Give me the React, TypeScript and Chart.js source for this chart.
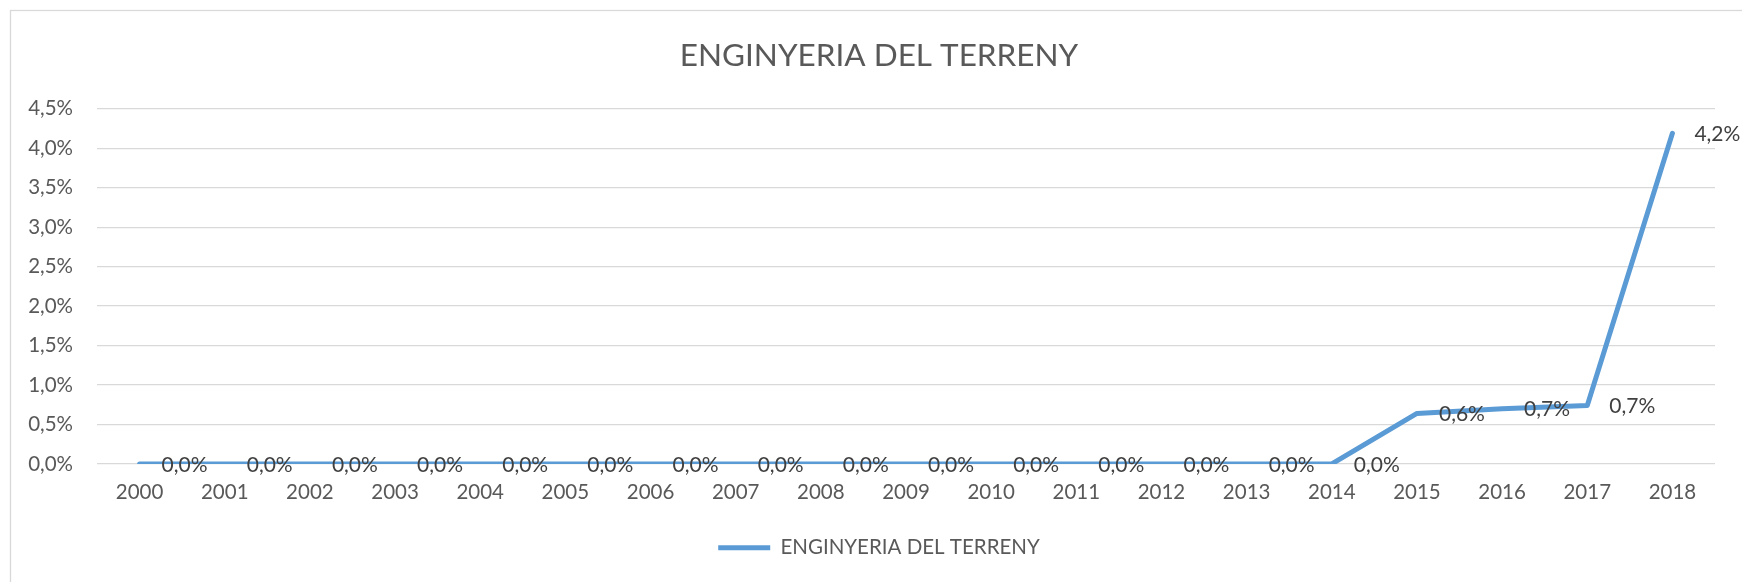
import React, { useEffect, useRef } from "react";
import { Chart, registerables } from "chart.js";

Chart.register(...registerables);

const categories = ["2000","2001","2002","2003","2004","2005","2006","2007","2008","2009","2010","2011","2012","2013","2014","2015","2016","2017","2018"];
const seriesName = "ENGINYERIA DEL TERRENY";
const seriesValues = [0,0,0,0,0,0,0,0,0,0,0,0,0,0,0,0.64,0.70,0.74,4.19];
const chartTitle = "ENGINYERIA DEL TERRENY";
const yMin = 0;
const yMax = 4.5;
const yStep = 0.5;

const FONT = "Lato, 'Open Sans', sans-serif";

const fmt = (v: number) => v.toFixed(1).replace(".", ",") + "%";

const borderPlugin = {
  id: "outerBorder",
  beforeDraw(chart: any) {
    const ctx = chart.ctx;
    ctx.save();
    ctx.fillStyle = "#ffffff";
    ctx.fillRect(0, 0, chart.width, chart.height);
    ctx.strokeStyle = "#D9D9D9";
    ctx.lineWidth = 1.3;
    ctx.strokeRect(10.5, 10.5, chart.width + 20, chart.height + 20);
    ctx.restore();
  },
};

const dataLabelPlugin = {
  id: "dataLabels",
  afterDatasetsDraw(chart: any) {
    const ctx = chart.ctx;
    const meta = chart.getDatasetMeta(0);
    const ds = chart.data.datasets[0];
    ctx.save();
    ctx.font = `21px ${FONT}`;
    ctx.fillStyle = "#404040";
    ctx.textAlign = "left";
    ctx.textBaseline = "middle";
    meta.data.forEach((pt: any, i: number) => {
      ctx.fillText(fmt(ds.data[i] as number), pt.x + 22, pt.y + 1);
    });
    ctx.restore();
  },
};

export default function App() {
  const ref = useRef<HTMLCanvasElement | null>(null);
  useEffect(() => {
    if (!ref.current) return;
    const chart = new Chart(ref.current, {
      type: "line",
      data: {
        labels: categories,
        datasets: [
          {
            label: seriesName,
            data: seriesValues,
            borderColor: "#5B9BD5",
            backgroundColor: "#5B9BD5",
            borderWidth: 5,
            pointRadius: 0,
            pointHoverRadius: 0,
            tension: 0,
            borderCapStyle: "round",
            borderJoinStyle: "round",
            fill: false,
          },
        ],
      },
      options: {
        animation: false,
        responsive: true,
        maintainAspectRatio: false,
        layout: { padding: { left: 20, right: 4, top: 0, bottom: 14 } },
        plugins: {
          title: {
            display: true,
            text: chartTitle,
            color: "#595959",
            font: { family: FONT, size: 31.5, weight: "normal" },
            padding: { top: 37, bottom: 34 },
          },
          legend: {
            display: true,
            position: "bottom",
            labels: {
              color: "#595959",
              font: { family: FONT, size: 20.5 },
              usePointStyle: true,
              pointStyle: "line",
              pointStyleWidth: 52,
              padding: 17,
            },
          },
          tooltip: { enabled: false },
        },
        scales: {
          x: {
            offset: true,
            grid: { display: false, drawTicks: false },
            border: { display: false },
            ticks: {
              color: "#595959",
              font: { family: FONT, size: 20.5 },
              padding: 16,
              autoSkip: false,
              maxRotation: 0,
            },
          },
          y: {
            min: yMin,
            max: yMax,
            grid: { color: "#D9D9D9", lineWidth: 1.3, drawTicks: false },
            border: { display: false },
            ticks: {
              stepSize: yStep,
              color: "#595959",
              font: { family: FONT, size: 20.5 },
              padding: 24,
              callback: (v: any) => fmt(Number(v)),
            },
            afterFit: (scale: any) => {
              scale.width = 77;
            },
          },
          yRightSpace: {
            type: "linear",
            position: "right",
            display: true,
            grid: { display: false, drawTicks: false },
            border: { display: false },
            ticks: { display: false },
            afterFit: (scale: any) => {
              scale.width = 23;
            },
          },
        },
      },
      plugins: [borderPlugin, dataLabelPlugin],
    });
    return () => chart.destroy();
  }, []);
  return (
    <div style={{ position: "fixed", left: 0, top: 0, width: 1742, height: 582, background: "#fff" }}>
      <canvas ref={ref} />
    </div>
  );
}
